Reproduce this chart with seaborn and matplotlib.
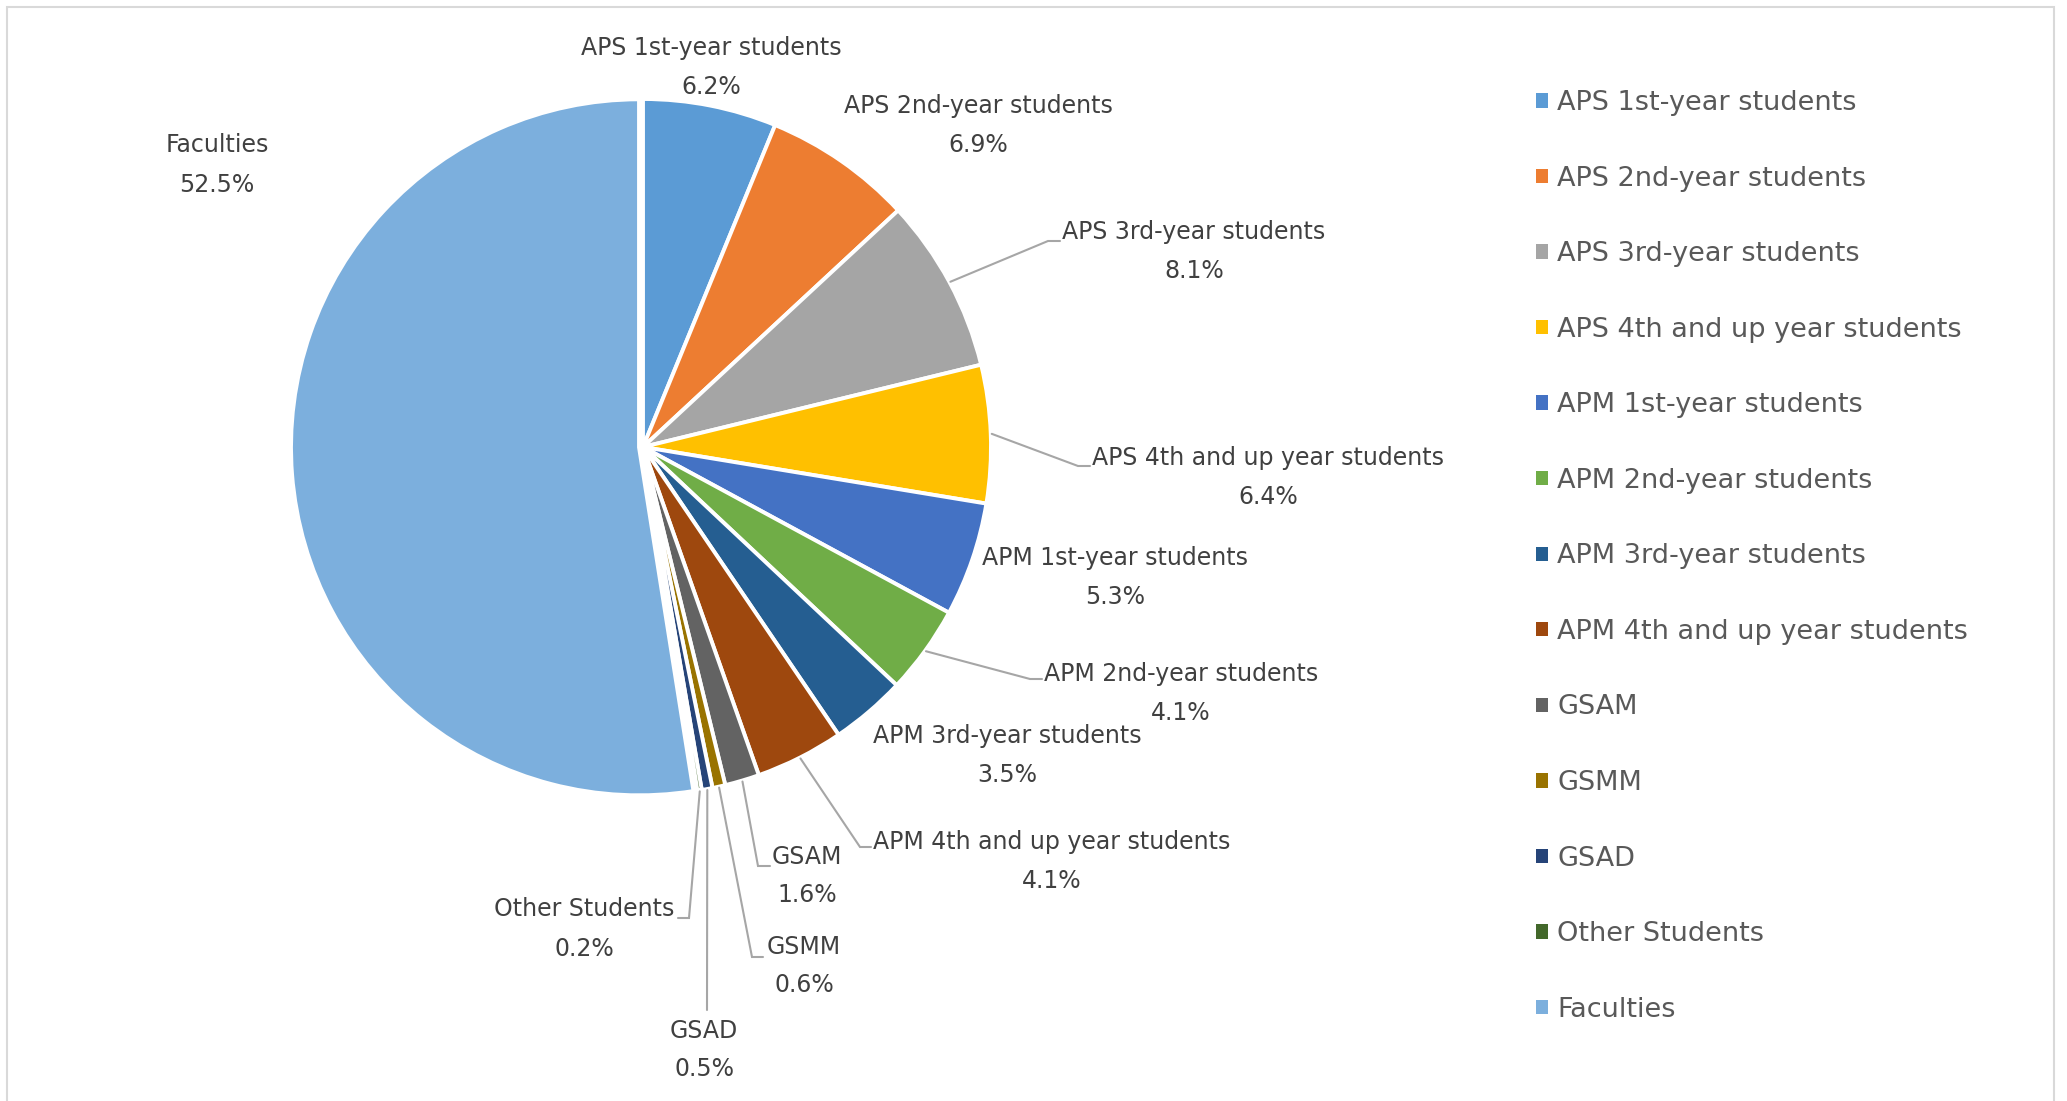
import matplotlib
matplotlib.use("Agg")
import matplotlib.pyplot as plt
import matplotlib.patches as mpatches
import numpy as np
import seaborn as sns

# Dados
categories = [
    "APS 1st-year students", "APS 2nd-year students", "APS 3rd-year students",
    "APS 4th and up year students", "APM 1st-year students", "APM 2nd-year students",
    "APM 3rd-year students", "APM 4th and up year students", "GSAM", "GSMM",
    "GSAD", "Other Students", "Faculties",
]
shares = [6.2, 6.9, 8.1, 6.4, 5.3, 4.1, 3.5, 4.1, 1.6, 0.6, 0.5, 0.2, 52.5]
colors = [
    "#5B9BD5", "#ED7D31", "#A5A5A5", "#FFC000", "#4472C4", "#70AD47",
    "#255E91", "#9E480E", "#636363", "#997300", "#264478", "#43682B", "#7CAFDD",
]

# Layout (pixels, medidos a partir do topo)
W, H = 2067, 1101
pie_center = (643, 447)
pie_radius = 348
label_centers = [
    (711, 68), (978, 125), (1194, 251), (1268, 477), (1115, 578), (1181, 694),
    (1007, 756), (1052, 862), (807, 876), (804, 966), (704, 1050), (584, 929),
    (217, 165),
]
# leader: (cotovelo, fim) ou None
leaders = [
    None, None, ((1048, 241), (1060, 241)), ((1078, 466), (1090, 466)), None,
    ((1030, 679), (1042, 679)), None, ((860, 847), (871, 847)),
    ((758, 866), (770, 866)), ((752, 957), (763, 957)), ((707, 1010), (707, 1010)),
    ((689, 918), (678, 918)), None,
]

sns.set_theme(style="white")
plt.rcParams['font.family'] = ['DejaVu Sans']

fig = plt.figure(figsize=(W / 100, H / 100), dpi=100)
ax = fig.add_axes([0, 0, 1, 1])

explode = [0] * (len(shares) - 1) + [4]
wedges, _ = ax.pie(
    shares, colors=sns.color_palette(colors), startangle=90, counterclock=False,
    radius=pie_radius, center=(pie_center[0], H - pie_center[1]), explode=explode,
    wedgeprops=dict(edgecolor="white", linewidth=2.8),
)
ax.set_xlim(0, W)
ax.set_ylim(0, H)
ax.set_aspect("equal")
ax.axis("off")

label_color = "#404040"
line_color = "#A6A6A6"
for w, name, val, (cx, cy), ld in zip(wedges, categories, shares, label_centers, leaders):
    ax.text(cx, H - cy + 19.5, name, ha="center", va="center", fontsize=17, color=label_color)
    ax.text(cx, H - cy - 19.5, f"{val:.1f}%", ha="center", va="center", fontsize=17, color=label_color)
    if ld is not None:
        mid = np.deg2rad((w.theta1 + w.theta2) / 2)
        ax0 = w.center[0] + (w.r + 1) * np.cos(mid)
        ay0 = w.center[1] + (w.r + 1) * np.sin(mid)
        (ex, ey), (fx, fy) = ld
        ax.plot([ax0, ex, fx], [ay0, H - ey, H - fy], color=line_color, lw=1.5,
                solid_joinstyle="miter")

# Legenda
handles = [mpatches.Patch(facecolor=c, edgecolor="none") for c in colors]
leg = ax.legend(
    handles, categories, loc="upper left", bbox_to_anchor=(1536, H - 90),
    bbox_transform=ax.transData, frameon=False, fontsize=19.5,
    handlelength=0.44, handleheight=0.44, handletextpad=0.35,
    labelspacing=1.83, borderpad=0, borderaxespad=0,
)
for t in leg.get_texts():
    t.set_color("#595959")

# Borda do gráfico
border = mpatches.Rectangle((7, -20), 2047, H - 7 + 20, fill=False,
                            edgecolor="#D9D9D9", lw=1.5, transform=ax.transData)
ax.add_patch(border)

fig.savefig("out.png", dpi=100)
